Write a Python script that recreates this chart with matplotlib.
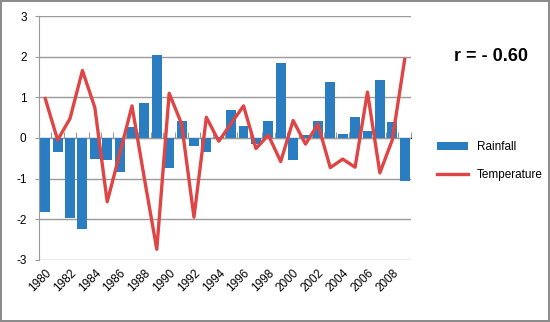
import matplotlib
matplotlib.use('Agg')
from matplotlib import pyplot as plt
from matplotlib.ticker import NullFormatter
import numpy as np

years = list(range(1980, 2010))
rainfall = [-1.82, -0.34, -1.98, -2.24, -0.51, -0.55, -0.84, 0.27, 0.86, 2.05,
            -0.75, 0.43, -0.19, -0.34, 0.02, 0.70, 0.29, -0.14, 0.43, 1.84,
            -0.55, 0.07, 0.41, 1.37, 0.11, 0.51, 0.16, 1.42, 0.40, -1.06]
temperature = [0.97, -0.05, 0.48, 1.66, 0.75, -1.57, -0.40, 0.79, -1.00, -2.74,
               1.10, 0.35, -1.95, 0.51, -0.08, 0.36, 0.79, -0.26, 0.07, -0.58,
               0.43, -0.15, 0.34, -0.73, -0.52, -0.72, 1.13, -0.86, -0.05, 1.93]
yticks = [-3, -2, -1, 0, 1, 2, 3]
xlabels = [str(y) for y in years[::2]]

bar_color = '#2A7DC1'
line_color = '#E04545'
grid_color = '#9A9A9A'

plt.rcParams['font.family'] = ['Liberation Sans', 'DejaVu Sans']
plt.rcParams['axes.unicode_minus'] = False

fig = plt.figure(figsize=(5.5, 3.22), dpi=100, edgecolor='#8C8C8C', linewidth=1.5)
ax = fig.add_axes([0.071, 0.193, 0.676, 0.757])

bars = ax.bar(years, rainfall, width=0.8, color=bar_color, label='Rainfall', zorder=2)
line, = ax.plot(years, temperature, color=line_color, linewidth=2.4, label='Temperature', zorder=3)

ax.set_xlim(years[0] - 0.5, years[-1] + 0.5)
ax.set_ylim(-3, 3)
ax.set_yticks(yticks)
ax.yaxis.grid(True, color=grid_color, linewidth=1, zorder=0)
ax.set_axisbelow(True)

ax.set_xticks(years[::2])
ax.set_xticklabels(xlabels, rotation=45, ha='right', rotation_mode='anchor', fontsize=8.5)
ax.tick_params(axis='x', length=0, pad=5)
ax.tick_params(axis='y', length=3, color=grid_color, labelsize=8.5, direction='out', pad=6)

for s in ['top', 'right', 'bottom']:
    ax.spines[s].set_visible(False)
ax.spines['left'].set_color(grid_color)

# axis line at zero with category tick marks
zero = ax.secondary_xaxis(0.5)
zero.set_xticks(np.arange(years[0] - 0.5, years[-1] + 1, 1))
zero.xaxis.set_major_formatter(NullFormatter())
zero.tick_params(length=4, color=grid_color, direction='out')
zero.spines['bottom'].set_color(grid_color)
zero.spines['bottom'].set_linewidth(1.2)

fig.legend([bars, line], ['Rainfall', 'Temperature'], loc='center left',
           bbox_to_anchor=(0.775, 0.50), frameon=False,
           fontsize=8.5, handlelength=2.6, labelspacing=1.3)
fig.text(0.892, 0.823, 'r = - 0.60', fontsize=13, fontweight='bold', ha='center', va='center')

fig.savefig('out.png', dpi=100)
